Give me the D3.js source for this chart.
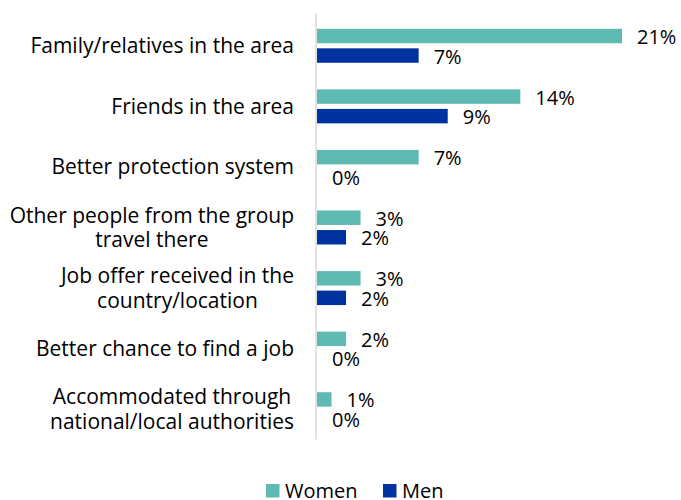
<!DOCTYPE html>
<html>
<head>
<meta charset="utf-8">
<script src="https://cdn.jsdelivr.net/npm/d3@7/dist/d3.min.js"></script>
<style>
  html, body { margin: 0; padding: 0; background: #fff; }
  svg { display: block; font-family: "Open Sans", Lato, sans-serif; }
</style>
</head>
<body>
<svg id="chart" width="681" height="500"></svg>
<script>
// Reasons for choosing the destination, by gender (%)
const categories = [
  ["Family/relatives in the area"],
  ["Friends in the area"],
  ["Better protection system"],
  ["Other people from the group", "travel there"],
  ["Job offer received in the", "country/location"],
  ["Better chance to find a job"],
  ["Accommodated through", "national/local authorities"]
];
const seriesNames = ["Women", "Men"];
const women = [21, 14, 7, 3, 3, 2, 1];
const men = [7, 9, 0, 2, 2, 0, 0];
const colors = ["#5fbab3", "#0033a0"];

const svg = d3.select("#chart");
const labelSize = 21;
const valueSize = 20;

const x = d3.scaleLinear().domain([0, 21]).range([317, 622]);
const y = d3.scaleBand().domain(d3.range(categories.length)).range([15.5, 439.5]).paddingInner(0).paddingOuter(0);
const inner = d3.scaleBand().domain(seriesNames).range([0, 34]).paddingInner(0.26);

const bandPad = (y.bandwidth() - 34) / 2;

const rows = categories.map((c, i) => ({ label: c, values: [women[i], men[i]] }));

const g = svg.selectAll("g.row").data(rows).join("g")
  .attr("class", "row")
  .attr("transform", (d, i) => `translate(0,${y(i) + bandPad})`);

g.selectAll("rect").data(d => d.values.map((v, k) => ({ v, s: seriesNames[k], k })))
  .join("rect")
  .attr("x", x(0))
  .attr("y", d => inner(d.s))
  .attr("width", d => x(d.v) - x(0))
  .attr("height", inner.bandwidth())
  .attr("fill", d => colors[d.k]);

g.selectAll("text.val").data(d => d.values.map((v, k) => ({ v, s: seriesNames[k], k })))
  .join("text")
  .attr("class", "val")
  .attr("x", d => x(d.v) + 15)
  .attr("y", d => inner(d.s) + inner.bandwidth() / 2 + 1)
  .attr("dy", "0.35em")
  .attr("font-size", valueSize)
  .attr("fill", "#000")
  .text(d => d.v + "%");

// category labels: block right-aligned, lines centred within the block
const labelRight = 294;
const lineH = 24.5;
g.each(function(d) {
  const grp = d3.select(this);
  const t = grp.append("text")
    .attr("font-size", labelSize)
    .attr("fill", "#000");
  const n = d.label.length;
  const lines = d.label.map((s, j) => t.append("tspan")
    .attr("y", 17 + (j - (n - 1) / 2) * lineH)
    .attr("dy", "0.35em")
    .text(s));
  const widths = lines.map(l => l.node().getComputedTextLength());
  const maxW = d3.max(widths);
  lines.forEach(l => l.attr("x", labelRight - maxW / 2).attr("text-anchor", "middle"));
});

// vertical axis line
svg.append("line")
  .attr("x1", 316).attr("x2", 316)
  .attr("y1", y.range()[0] - 2).attr("y2", y.range()[1])
  .attr("stroke", "#d9d9d9").attr("stroke-width", 1.5);

// legend
const legend = svg.append("g").attr("class", "legend");
const legendItems = [{ name: "Women", x: 266 }, { name: "Men", x: 383 }];
legendItems.forEach((it, k) => {
  legend.append("rect")
    .attr("x", it.x).attr("y", 484)
    .attr("width", 13.5).attr("height", 13.5)
    .attr("fill", colors[k]);
  legend.append("text")
    .attr("x", it.x + 19).attr("y", 490.5)
    .attr("dy", "0.35em")
    .attr("font-size", valueSize)
    .attr("fill", "#000")
    .text(it.name);
});
</script>
</body>
</html>
